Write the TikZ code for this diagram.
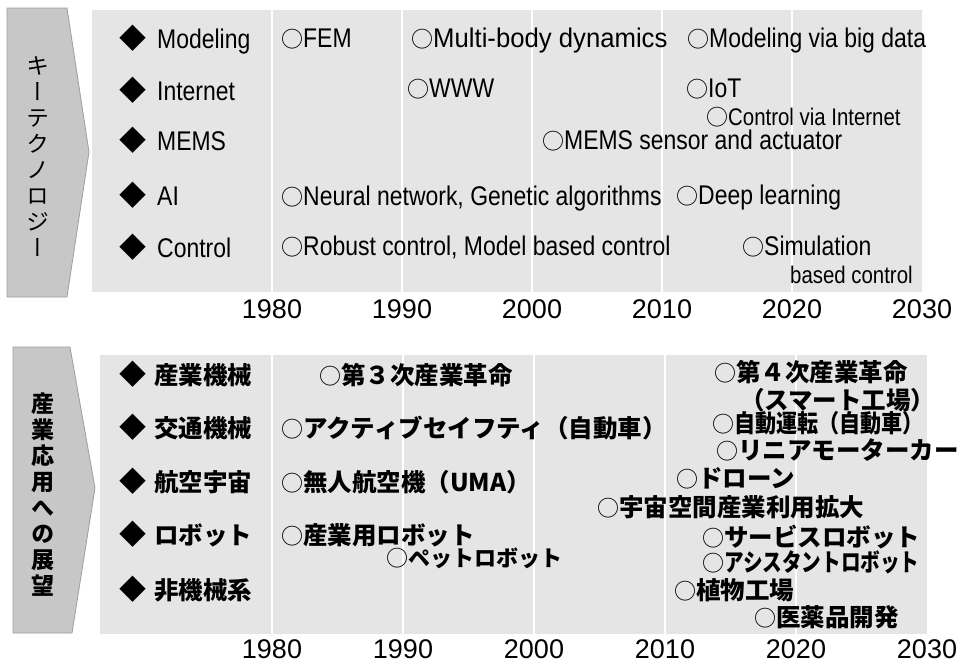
\documentclass[tikz,border=0pt]{standalone}
\usepackage{fontspec}
\usepackage{graphicx}
\setmainfont{Liberation Sans}[FakeStretch=0.85]
\newfontfamily\yr{Liberation Sans}
\newfontfamily\jp{Noto Sans CJK JP}
\newfontfamily\jpv{Noto Sans CJK JP}[RawFeature=+vert]
\def\maru{{\jp\mdseries\fontsize{22}{22}\selectfont ○}}
\def\hishi{{\jp\mdseries\fontsize{27}{27}\selectfont ◆}}

\begin{document}
\begin{tikzpicture}[x=1pt,y=-1pt]
\tikzstyle{panel}=[fill=black!10]
\tikzstyle{tab}=[fill=black!22,draw=black!38,line width=0.8pt]
\tikzstyle{grid}=[draw=white,line width=2pt]
\tikzstyle{year}=[anchor=base,inner sep=0pt,font=\yr\fontsize{27}{30}\selectfont]
\tikzstyle{head}=[anchor=base west,inner sep=0pt,font=\fontsize{27}{29}\selectfont]
\tikzstyle{small}=[anchor=base west,inner sep=0pt,font=\fontsize{24}{26}\selectfont]
\tikzstyle{jhead}=[anchor=base west,inner sep=0pt,font=\jp\bfseries\fontsize{24.5}{28}\selectfont]
\tikzstyle{side}=[align=center,inner sep=0pt,font=\jpv\fontsize{23}{26}\selectfont]
\def \xa {272}
\def \dec {130}
\def \xb {272}
\def \decb {131}
\useasboundingbox (0,0) rectangle (975,667);

\path[tab] (7,8) -- (67,8) -- (89,152) -- (67,297) -- (7,297) -- cycle;
\path[tab] (13,347) -- (70,347) -- (95,488) -- (72,633) -- (13,633) -- cycle;
\node[side] (keytech) at (38,157) {キ\\ー\\テ\\ク\\ノ\\ロ\\ジ\\ー};
\node[side,font=\jpv\bfseries\fontsize{23}{26}\selectfont] (outlook) at (43,495) {産\\業\\応\\用\\へ\\の\\展\\望};

\path[panel] (92,10) rectangle (922,292);
\path[panel] (100,355) rectangle (927,634);
\draw[grid] ({\xa+\dec*0},10) -- ({\xa+\dec*0},292);
\draw[grid] ({\xa+\dec*1},10) -- ({\xa+\dec*1},292);
\draw[grid] ({\xa+\dec*2},10) -- ({\xa+\dec*2},292);
\draw[grid] ({\xa+\dec*3},10) -- ({\xa+\dec*3},292);
\draw[grid] ({\xa+\dec*4},10) -- ({\xa+\dec*4},292);
\draw[grid] ({\xb+\decb*0},355) -- ({\xb+\decb*0},634);
\draw[grid] ({\xb+\decb*1},355) -- ({\xb+\decb*1},634);
\draw[grid] ({\xb+\decb*2},355) -- ({\xb+\decb*2},634);
\draw[grid] ({\xb+\decb*3},355) -- ({\xb+\decb*3},634);
\draw[grid] ({\xb+\decb*4},355) -- ({\xb+\decb*4},634);

\node[year] (t1980) at ({\xa+\dec*0},318) {1980};
\node[year] (t1990) at ({\xa+\dec*1},318) {1990};
\node[year] (t2000) at ({\xa+\dec*2},318) {2000};
\node[year] (t2010) at ({\xa+\dec*3},318) {2010};
\node[year] (t2020) at ({\xa+\dec*4},318) {2020};
\node[year] (t2030) at ({\xa+\dec*5},318) {2030};
\node[year] (b1980) at ({\xb+\decb*0},658) {1980};
\node[year] (b1990) at ({\xb+\decb*1},658) {1990};
\node[year] (b2000) at ({\xb+\decb*2},658) {2000};
\node[year] (b2010) at ({\xb+\decb*3},658) {2010};
\node[year] (b2020) at ({\xb+\decb*4},658) {2020};
\node[year] (b2030) at ({\xb+\decb*5},658) {2030};

\node[head] (modeling) at (119,48) {\hishi\hspace{11pt}Modeling};
\node[head] (internet) at (119,100) {\hishi\hspace{11pt}Internet};
\node[head] (mems) at (119,150) {\hishi\hspace{11pt}MEMS};
\node[head] (ai) at (119,205) {\hishi\hspace{11pt}AI};
\node[head] (control) at (119,257) {\hishi\hspace{11pt}Control};

\node[head] (fem) at (281,47) {\maru FEM};
\node[head] (multibody) at (411,47) {\maru\scalebox{1.12}[1]{Multi-body dynamics}};
\node[head] (bigdata) at (687,47) {\maru Modeling via big data};
\node[head] (www) at (407,97) {\maru WWW};
\node[head] (iot) at (686,97) {\maru IoT};
\node[small] (viainternet) at (706,125) {\maru Control via Internet};
\node[head] (memssensor) at (542,149) {\maru MEMS sensor and actuator};
\node[head] (neural) at (281,205) {\maru Neural network, Genetic algorithms};
\node[head] (deep) at (676,204) {\maru Deep learning};
\node[head] (robust) at (281,255) {\maru Robust control, Model based control};
\node[head] (simulation) at (742,255) {\maru Simulation};
\node[small] (basedcontrol) at (790,283) {based control};

\node[jhead] (sangyo) at (119,384) {\hishi\hspace{8pt}産業機械};
\node[jhead] (kotsu) at (119,437) {\hishi\hspace{8pt}交通機械};
\node[jhead] (koku) at (119,491) {\hishi\hspace{8pt}航空宇宙};
\node[jhead] (robot) at (119,544) {\hishi\hspace{8pt}ロボット};
\node[jhead] (hikikai) at (119,599) {\hishi\hspace{8pt}非機械系};

\node[jhead] (third) at (319,384) {\maru 第３次産業革命};
\node[jhead] (fourth) at (714,381) {\maru 第４次産業革命};
\node[jhead] (smart) at (740,409) {（スマート工場）};
\node[jhead] (active) at (281,437) {\maru アクティブセイフティ（自動車）};
\node[jhead] (autodrive) at (712,432) {\maru\scalebox{0.86}[1]{自動運転（自動車）}};
\node[jhead] (linear) at (716,459) {\maru リニアモーターカー};
\node[jhead] (uma) at (281,491) {\maru 無人航空機（UMA）};
\node[jhead] (drone) at (676,487) {\maru ドローン};
\node[jhead] (space) at (597,516) {\maru 宇宙空間産業利用拡大};
\node[jhead] (indrobot) at (281,544) {\maru 産業用ロボット};
\node[jhead,font=\jp\bfseries\fontsize{22}{26}\selectfont] (petrobot) at (386,566) {\maru ペットロボット};
\node[jhead] (service) at (702,546) {\maru サービスロボット};
\node[jhead] (assist) at (702,571) {\maru\scalebox{0.8}[1]{アシスタントロボット}};
\node[jhead] (plant) at (674,599) {\maru 植物工場};
\node[jhead] (drug) at (754,626) {\maru 医薬品開発};
\end{tikzpicture}
\end{document}
